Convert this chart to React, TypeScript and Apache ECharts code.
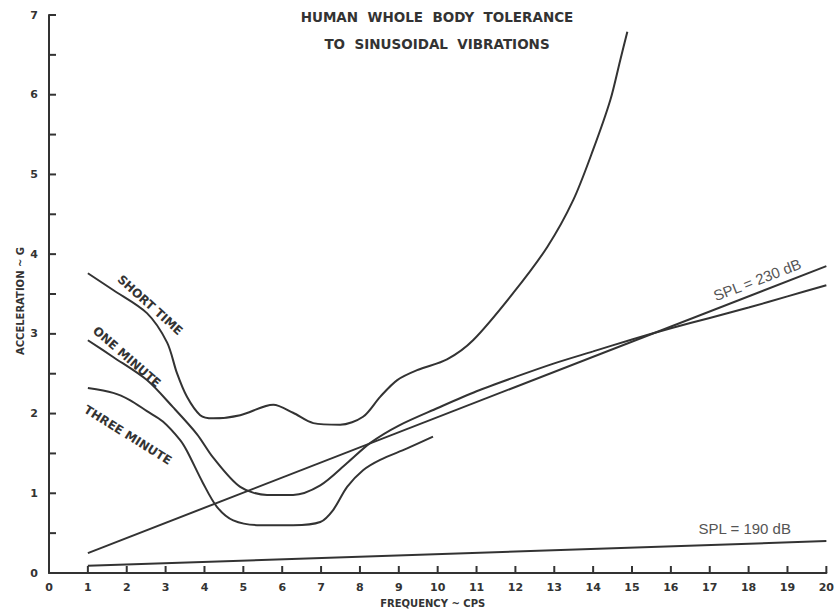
import React, { useEffect, useRef } from "react";
import * as echarts from "echarts";

const xTickValues = [0, 1, 2, 3, 4, 5, 6, 7, 8, 9, 10, 11, 12, 13, 14, 15, 16, 17, 18, 19, 20];
const yTickValues = [0, 0.5, 1, 1.5, 2, 2.5, 3, 3.5, 4, 4.5, 5, 5.5, 6, 6.5, 7];
const yTickLabels = [0, 1, 2, 3, 4, 5, 6, 7];

const shortTimeX = [1, 1.65, 2.52, 3.04, 3.29, 3.55, 3.89, 4.22, 4.92, 5.77, 6.28, 6.8, 7.49, 8.08, 8.52, 8.96, 9.5, 10.24, 10.91, 11.94, 12.82, 13.49, 14.0, 14.44, 14.7, 14.88];
const shortTimeY = [3.76, 3.55, 3.26, 2.89, 2.51, 2.21, 1.98, 1.94, 1.98, 2.11, 2.01, 1.88, 1.86, 1.96, 2.21, 2.42, 2.55, 2.68, 2.92, 3.51, 4.09, 4.68, 5.31, 5.93, 6.44, 6.79];

const oneMinuteX = [1, 1.65, 2.52, 3.19, 3.81, 4.22, 4.92, 5.61, 6.28, 6.98, 7.67, 8.26, 9, 10, 11, 12, 13, 14, 15, 16, 17, 18, 19, 20];
const oneMinuteY = [2.92, 2.71, 2.42, 2.08, 1.74, 1.45, 1.08, 0.98, 0.98, 1.1, 1.38, 1.63, 1.85, 2.07, 2.28, 2.46, 2.63, 2.78, 2.93, 3.07, 3.2, 3.33, 3.47, 3.61];

const threeMinuteX = [1, 1.65, 2.08, 2.52, 2.93, 3.37, 3.55, 3.96, 4.32, 4.74, 5.43, 6.28, 6.98, 7.31, 7.67, 8.08, 8.52, 9.2, 9.88];
const threeMinuteY = [2.32, 2.26, 2.17, 2.03, 1.9, 1.67, 1.53, 1.13, 0.83, 0.66, 0.6, 0.6, 0.64, 0.79, 1.08, 1.29, 1.42, 1.56, 1.71];

const spl230X = [1, 20];
const spl230Y = [0.25, 3.85];
const spl190X = [1, 20];
const spl190Y = [0.09, 0.4];

const titleLines = ["HUMAN  WHOLE  BODY  TOLERANCE", "TO  SINUSOIDAL  VIBRATIONS"];
const xName = "FREQUENCY ~ CPS";
const yName = "ACCELERATION ~ G";

const curveLabels = [
  { text: "SHORT TIME", x: 2.6, y: 3.36, angle: -42 },
  { text: "ONE MINUTE", x: 2.0, y: 2.71, angle: -41 },
  { text: "THREE MINUTE", x: 2.03, y: 1.73, angle: -32 },
];
const splLabels = [
  { text: "SPL = 230 dB", x: 18.22, y: 3.68, angle: 21 },
  { text: "SPL = 190 dB", x: 17.9, y: 0.56, angle: 0 },
];

const INK = "#333333";
const TICK_LEN = 7;

function pairs(xs: number[], ys: number[]) {
  return xs.map((x, i) => [x, ys[i]]);
}

export default function App() {
  const ref = useRef<HTMLDivElement>(null);
  useEffect(() => {
    if (!ref.current) return;
    const chart = echarts.init(ref.current, undefined, { renderer: "svg" });
    const lineSeries = (name: string, data: number[][], smooth: boolean) => ({
      name,
      type: "line",
      data,
      showSymbol: false,
      symbol: "none",
      smooth: smooth ? 0.3 : false,
      lineStyle: { color: INK, width: 2 },
      silent: true,
    });
    chart.setOption({
      animation: false,
      backgroundColor: "#ffffff",
      grid: { left: 49, right: 9, top: 15, bottom: 40 },
      xAxis: {
        type: "value",
        min: 0,
        max: 20,
        interval: 1,
        axisLine: { show: true, onZero: false, lineStyle: { color: INK, width: 2 } },
        axisTick: { show: false },
        axisLabel: {
          show: true,
          margin: 9,
          color: INK,
          fontFamily: "DejaVu Sans",
          fontWeight: "bold",
          fontSize: 11,
          formatter: (v: number) => (xTickValues.includes(v) ? String(v) : ""),
        },
        splitLine: { show: false },
      },
      yAxis: {
        type: "value",
        min: 0,
        max: 7,
        interval: 0.5,
        axisLine: { show: true, onZero: false, lineStyle: { color: INK, width: 2 } },
        axisTick: { show: false },
        axisLabel: {
          show: true,
          margin: 11,
          color: INK,
          fontFamily: "DejaVu Sans",
          fontWeight: "bold",
          fontSize: 11,
          formatter: (v: number) => (yTickLabels.includes(v) ? String(v) : ""),
        },
        splitLine: { show: false },
      },
      series: [
        lineSeries("Short time", pairs(shortTimeX, shortTimeY), true),
        lineSeries("One minute", pairs(oneMinuteX, oneMinuteY), true),
        lineSeries("Three minute", pairs(threeMinuteX, threeMinuteY), true),
        lineSeries("SPL 230 dB", pairs(spl230X, spl230Y), false),
        lineSeries("SPL 190 dB", pairs(spl190X, spl190Y), false),
      ],
    });

    const toPx = (x: number, y: number) => chart.convertToPixel({ gridIndex: 0 }, [x, y]) as number[];
    const graphics: any[] = [];
    xTickValues
      .filter((v) => v > 0)
      .forEach((v) => {
        const p = toPx(v, 0);
        graphics.push({
          type: "line",
          silent: true,
          shape: { x1: p[0], y1: p[1], x2: p[0], y2: p[1] - TICK_LEN },
          style: { stroke: INK, lineWidth: 2 },
        });
      });
    yTickValues
      .filter((v) => v > 0)
      .forEach((v) => {
        const p = toPx(0, v);
        graphics.push({
          type: "line",
          silent: true,
          shape: { x1: p[0], y1: p[1], x2: p[0] + TICK_LEN, y2: p[1] },
          style: { stroke: INK, lineWidth: 2 },
        });
      });
    titleLines.forEach((t, i) => {
      graphics.push({
        type: "text",
        x: 437,
        y: 17 + i * 27,
        style: {
          text: t,
          fill: INK,
          font: "bold 13.5px 'DejaVu Sans'",
          align: "center",
          verticalAlign: "middle",
        },
      });
    });
    const bottomMid = toPx(10, 0);
    graphics.push({
      type: "text",
      x: bottomMid[0] - 5,
      y: 603,
      style: { text: xName, fill: INK, font: "bold 10px 'DejaVu Sans'", align: "center", verticalAlign: "middle" },
    });
    graphics.push({
      type: "text",
      x: 20,
      y: 301,
      rotation: Math.PI / 2,
      style: { text: yName, fill: INK, font: "bold 10px 'DejaVu Sans'", align: "center", verticalAlign: "middle" },
    });
    curveLabels.forEach((l) => {
      const p = toPx(l.x, l.y);
      graphics.push({
        type: "text",
        x: p[0],
        y: p[1],
        rotation: (l.angle * Math.PI) / 180,
        style: { text: l.text, fill: INK, font: "bold 12px 'DejaVu Sans'", align: "center", verticalAlign: "middle" },
      });
    });
    splLabels.forEach((l) => {
      const p = toPx(l.x, l.y);
      graphics.push({
        type: "text",
        x: p[0],
        y: p[1],
        rotation: (l.angle * Math.PI) / 180,
        style: { text: l.text, fill: "#555555", font: "15px 'Liberation Sans'", align: "center", verticalAlign: "middle" },
      });
    });
    chart.setOption({ graphic: graphics });
    return () => chart.dispose();
  }, []);
  return (
    <div
      ref={ref}
      style={{ position: "fixed", left: 0, top: 0, width: 837, height: 613, background: "#fff" }}
    />
  );
}
